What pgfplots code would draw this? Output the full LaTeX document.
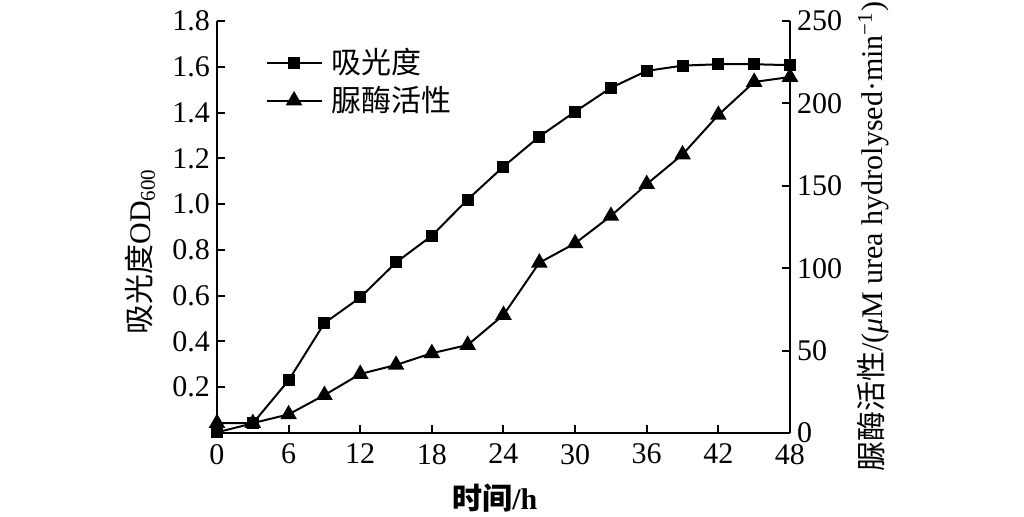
\documentclass[border=0pt]{standalone}
\usepackage{fontspec}
\setmainfont{Liberation Serif}
\newfontfamily\cjk{Noto Sans CJK SC}
\usepackage{pgfplots}
\pgfplotsset{compat=1.18}

\pgfplotstableread{
t od
0 0.003
3 0.042
6 0.230
9 0.480
12 0.592
15 0.745
18 0.862
21 1.020
24 1.164
27 1.295
30 1.404
33 1.508
36 1.582
39 1.605
42 1.611
45 1.611
48 1.607
}\odtable

\pgfplotstableread{
t ur
0 6
3 6
6 11.3
9 23
12 35.8
15 41.3
18 48.4
21 53.4
24 71.6
27 103.3
30 115.1
33 131.7
36 151
39 169
42 193
45 213
48 216
}\urtable

\begin{document}
\begin{tikzpicture}[font=\fontsize{15}{17}\selectfont]
\path[use as bounding box] (0,0) rectangle (512pt,258.5pt);
\pgfplotsset{
  longleg/.style={legend image code/.code={\draw[mark repeat=2,mark phase=2,##1] plot coordinates {(0pt,0pt) (13.75pt,0pt) (27.5pt,0pt)};}},
}
\begin{axis}[
  at={(108.5pt,42pt)}, anchor=south west,
  scale only axis, width=286.5pt, height=206pt,
  xmin=0, xmax=48, ymin=0, ymax=1.8,
  axis x line=bottom, axis y line=left,
  axis line style={-, line width=1pt},
  tick align=inside, major tick length=4pt,
  tick style={line width=1pt, black},
  xtick={0,6,12,18,24,30,36,42,48},
  ytick={0.2,0.4,0.6,0.8,1.0,1.2,1.4,1.6,1.8},
  yticklabel style={/pgf/number format/.cd,fixed,fixed zerofill,precision=1},
  xticklabel style={yshift=-2pt},
  /pgf/number format/assume math mode=true,
  xlabel={{\cjk\bfseries 时间}\textbf{/h}},
  ylabel={{\cjk 吸光度}OD\textsubscript{600}},
  every axis x label/.style={at={(axis description cs:0.485,-0.158)}, anchor=center},
  every axis y label/.style={at={(axis description cs:-0.134,0.44)}, rotate=90, anchor=center},
  legend style={at={(axis description cs:0.084,0.939)}, anchor=north west, draw=none, fill=none,
    inner sep=0pt, row sep=3pt, cells={anchor=west},
    nodes={inner sep=0.5pt, text height=13pt, text depth=2pt},
    /tikz/every odd column/.append style={column sep=4pt}},
  legend cell align=left,
  clip=false,
]
\addplot[black, line width=1pt, mark=square*, mark size=2.5pt, longleg] table[x=t,y=od] {\odtable};
\addlegendentry{{\cjk 吸光度}}
\addlegendimage{black, line width=1pt, mark=triangle*, mark size=3.8pt, longleg}
\addlegendentry{{\cjk 脲酶活性}}
\end{axis}
\begin{axis}[
  at={(108.5pt,42pt)}, anchor=south west,
  scale only axis, width=286.5pt, height=206pt,
  xmin=0, xmax=48, ymin=0, ymax=250,
  axis x line=none, axis y line=right,
  axis line style={-, line width=1pt},
  tick align=inside, major tick length=4pt,
  tick style={line width=1pt, black},
  ytick={0,50,100,150,200,250},
  /pgf/number format/assume math mode=true,
  ylabel={{\cjk 脲酶活性}/({\itshape μ}M urea hydrolysed·min\textsuperscript{−1})},
  every axis y label/.style={at={(axis description cs:1.145,0.476)}, rotate=90, anchor=center},
  clip=false,
]
\addplot[black, line width=1pt, mark=triangle*, mark size=3.8pt] table[x=t,y=ur] {\urtable};
\end{axis}
\end{tikzpicture}
\end{document}
